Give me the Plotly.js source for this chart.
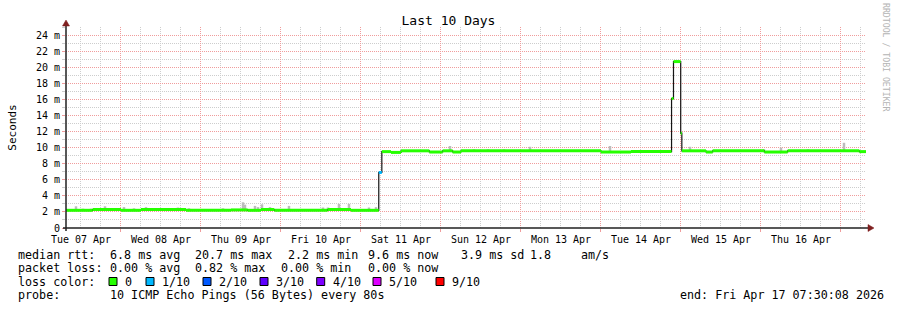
<!DOCTYPE html>
<html>
<head>
<meta charset="utf-8">
<script src="https://cdn.plot.ly/plotly-3.0.1.min.js"></script>
<style>html,body{margin:0;padding:0;background:#fff;}#chart{width:897px;height:310px;}</style>
</head>
<body>
<div id="chart"></div>
<script>
// ---------------- DATA ----------------
const rangeStart = '2026-04-07 07:30:08';
const rangeEnd = '2026-04-17 07:30:08';

// median RTT steps (ms) : start time, value, lost pings out of 10
const segStart = [
  '2026-04-07 07:30', '2026-04-07 15:30', '2026-04-08 00:00', '2026-04-08 06:00',
  '2026-04-08 19:30', '2026-04-09 09:00', '2026-04-09 14:00', '2026-04-09 18:00',
  '2026-04-09 22:00', '2026-04-10 14:00', '2026-04-10 21:00', '2026-04-11 05:20',
  '2026-04-11 06:15', '2026-04-11 09:00', '2026-04-11 12:00', '2026-04-11 20:30',
  '2026-04-12 00:30', '2026-04-12 03:30', '2026-04-12 06:00', '2026-04-14 00:00',
  '2026-04-14 09:00', '2026-04-14 21:10', '2026-04-14 21:45', '2026-04-14 23:55',
  '2026-04-15 00:15', '2026-04-15 07:30', '2026-04-15 09:30', '2026-04-16 01:00',
  '2026-04-16 08:00', '2026-04-17 05:30'
];
const segMedian = [
  2.2, 2.3, 2.2, 2.3,
  2.2, 2.25, 2.2, 2.3,
  2.2, 2.3, 2.2, 6.9,
  9.5, 9.4, 9.6, 9.45,
  9.6, 9.45, 9.6, 9.45,
  9.5, 16.1, 20.7, 11.8,
  9.6, 9.45, 9.6, 9.45,
  9.6, 9.5
];
const segLoss = [
  0, 0, 0, 0, 0, 0, 0, 0, 0, 0, 0, 1,
  0, 0, 0, 0, 0, 0, 0, 0, 0, 0, 0, 0,
  0, 0, 0, 0, 0, 0
];

// smoke (upper spread of pings, ms)
const smokeTime = [
  '2026-04-07 10:30', '2026-04-07 12:36', '2026-04-07 15:00', '2026-04-07 19:12',
  '2026-04-07 21:36', '2026-04-08 00:54', '2026-04-08 03:54', '2026-04-08 07:30',
  '2026-04-08 17:06', '2026-04-08 20:24', '2026-04-09 06:36', '2026-04-09 12:36',
  '2026-04-09 13:12', '2026-04-09 16:12', '2026-04-09 17:06', '2026-04-09 18:18',
  '2026-04-09 20:42', '2026-04-10 02:24', '2026-04-10 12:36', '2026-04-10 14:06',
  '2026-04-10 17:24', '2026-04-10 20:24', '2026-04-11 02:24', '2026-04-11 04:30',
  '2026-04-12 02:42', '2026-04-12 09:54', '2026-04-12 14:06', '2026-04-12 18:54',
  '2026-04-13 02:42', '2026-04-14 02:42', '2026-04-15 02:42', '2026-04-16 00:54',
  '2026-04-16 06:00', '2026-04-16 14:06', '2026-04-17 00:54'
];
const smokeTop = [
  2.7, 2.4, 2.4, 2.7,
  2.4, 2.6, 2.45, 2.6,
  2.55, 2.45, 2.45, 3.2,
  2.9, 2.75, 2.6, 2.95,
  2.6, 2.75, 2.55, 2.55,
  3.0, 3.0, 2.55, 2.6,
  10.2, 9.8, 9.8, 9.8,
  10.1, 10.2, 10.1, 9.8,
  10.0, 9.8, 10.6
];

// y axis ticks
const yTickVals = [0, 2, 4, 6, 8, 10, 12, 14, 16, 18, 20, 22, 24];
const yTickText = ['0', '2 m', '4 m', '6 m', '8 m', '10 m', '12 m', '14 m', '16 m', '18 m', '20 m', '22 m', '24 m'];

// x axis: midnights (grid) and noon labels
const dayStarts = ['2026-04-08', '2026-04-09', '2026-04-10', '2026-04-11', '2026-04-12',
  '2026-04-13', '2026-04-14', '2026-04-15', '2026-04-16', '2026-04-17'];
const dayNoons = ['2026-04-07 12:00', '2026-04-08 12:00', '2026-04-09 12:00', '2026-04-10 12:00',
  '2026-04-11 12:00', '2026-04-12 12:00', '2026-04-13 12:00', '2026-04-14 12:00',
  '2026-04-15 12:00', '2026-04-16 12:00'];
const dayLabels = ['Tue 07 Apr', 'Wed 08 Apr', 'Thu 09 Apr', 'Fri 10 Apr', 'Sat 11 Apr',
  'Sun 12 Apr', 'Mon 13 Apr', 'Tue 14 Apr', 'Wed 15 Apr', 'Thu 16 Apr'];

// loss colours
const lossLevels = [0, 1, 2, 3, 4, 5, 9];
const lossLabels = ['0', '1/10', '2/10', '3/10', '4/10', '5/10', '9/10'];
const lossColors = ['#26ff00', '#00b8ff', '#0059ff', '#5e00ff', '#7e00ff', '#dd00ff', '#ff0000'];

// legend texts
const rttLabel = 'median rtt:';
const rttStats = ['6.8 ms avg', '20.7 ms max', '2.2 ms min', '9.6 ms now', '3.9 ms sd', '1.8', 'am/s'];
const lossLabel = 'packet loss:';
const lossStats = ['0.00 % avg', '0.82 % max', '0.00 % min', '0.00 % now'];
const colorLabel = 'loss color:';
const probeLabel = 'probe:';
const probeText = '10 ICMP Echo Pings (56 Bytes) every 80s';
const endText = 'end: Fri Apr 17 07:30:08 2026';
const titleText = 'Last 10 Days';
const yTitle = 'Seconds';
const watermark = 'RRDTOOL / TOBI OETIKER';

// ---------------- LAYOUT HELPERS ----------------
const W = 897, H = 310;
const PL = 66, PR = 866, PT = 27, PB = 228;
const px = x => (x - PL) / (PR - PL);
const py = y => (PB - y) / (PB - PT);
const MONO = 'DejaVu Sans Mono, monospace';
const gridMajor = '#f09c9c';
const gridMinor = '#cdcdcd';
const dashPat = '1px,1px';

function levelIndex(loss) {
  let idx = 0;
  for (let k = 0; k < lossLevels.length; k++) if (loss >= lossLevels[k]) idx = k;
  return idx;
}
function medianAt(t) {
  const tt = new Date(t.replace(' ', 'T')).getTime();
  let v = segMedian[0];
  for (let i = 0; i < segStart.length; i++) {
    if (new Date(segStart[i].replace(' ', 'T')).getTime() <= tt) v = segMedian[i];
  }
  return v;
}

// ---------------- TRACES ----------------
const traces = [];

// smoke
const sx = [], sy = [];
smokeTime.forEach((t, i) => { sx.push(t, t, null); sy.push(medianAt(t), smokeTop[i], null); });
traces.push({ x: sx, y: sy, mode: 'lines', line: { color: '#bcbcbc', width: 2.5 }, hoverinfo: 'skip', showlegend: false });

// dark median step line
traces.push({
  x: segStart.concat([rangeEnd]), y: segMedian.concat([segMedian[segMedian.length - 1]]),
  mode: 'lines', line: { color: '#141414', width: 1.2, shape: 'hv' }, hoverinfo: 'skip', showlegend: false
});

// coloured median by loss
lossColors.forEach((col, k) => {
  const x = [], y = [];
  for (let i = 0; i < segStart.length; i++) {
    if (levelIndex(segLoss[i]) !== k) continue;
    x.push(segStart[i], i + 1 < segStart.length ? segStart[i + 1] : rangeEnd, null);
    y.push(segMedian[i], segMedian[i], null);
  }
  if (x.length) traces.push({ x, y, mode: 'lines', line: { color: col, width: 3 }, hoverinfo: 'skip', showlegend: false });
});

// invisible trace to carry label axis
traces.push({ x: [rangeStart, rangeEnd], y: [0, 0], xaxis: 'x2', mode: 'markers', marker: { opacity: 0 }, hoverinfo: 'skip', showlegend: false });

// ---------------- ANNOTATIONS & SHAPES ----------------
const ann = [];
const shapes = [];
function txt(x, y, s, opts) {
  ann.push(Object.assign({
    xref: 'paper', yref: 'paper', x: px(x), y: py(y), text: s, showarrow: false,
    xanchor: 'left', yanchor: 'middle', font: { family: MONO, size: 11.7, color: '#000' }
  }, opts || {}));
}
const row1 = 254.5, row2 = 268, row3 = 281.5, row4 = 295;
txt(16, row1, rttLabel);
[107.7, 192.7, 286, 366, 459, 528, 579].forEach((x, i) => txt(x, row1, rttStats[i]));
txt(16, row2, lossLabel);
[107.7, 192.7, 279.3, 366].forEach((x, i) => txt(x, row2, lossStats[i]));
txt(16, row3, colorLabel);
const boxX = [109, 146, 203, 260, 316.7, 373, 436];
boxX.forEach((bx, i) => {
  shapes.push({ type: 'rect', xref: 'paper', yref: 'paper', x0: px(bx), x1: px(bx + 8), y0: py(row3 + 4), y1: py(row3 - 4),
    fillcolor: lossColors[i], line: { color: '#000', width: 1 } });
  txt(bx + 14, row3, lossLabels[i]);
});
txt(16, row4, probeLabel);
txt(107.7, row4, probeText);
txt(678.3, row4, endText);

// watermark
ann.push({ xref: 'paper', yref: 'paper', x: px(886), y: py(58), text: watermark, textangle: 90, showarrow: false,
  xanchor: 'center', yanchor: 'middle', font: { family: MONO, size: 8.2, color: '#b4b4b4' } });

// axes lines and arrows
const axisCol = '#202020', arrowCol = '#7f1f1f';
shapes.push({ type: 'line', xref: 'paper', yref: 'paper', x0: px(63), x1: px(870), y0: 0, y1: 0, line: { color: axisCol, width: 1.5 } });
shapes.push({ type: 'line', xref: 'paper', yref: 'paper', x0: 0, x1: 0, y0: py(231), y1: py(22), line: { color: axisCol, width: 1.5 } });
shapes.push({ type: 'path', xref: 'paper', yref: 'paper',
  path: `M ${px(868)} ${py(224.5)} L ${px(874)} ${py(228)} L ${px(868)} ${py(231.5)} Z`, fillcolor: arrowCol, line: { color: arrowCol, width: 0.5 } });
shapes.push({ type: 'path', xref: 'paper', yref: 'paper',
  path: `M ${px(62.5)} ${py(26)} L ${px(66)} ${py(20)} L ${px(69.5)} ${py(26)} Z`, fillcolor: arrowCol, line: { color: arrowCol, width: 0.5 } });

// ---------------- LAYOUT ----------------
const layout = {
  width: W, height: H,
  margin: { l: PL, r: W - PR, t: PT, b: H - PB, pad: 0 },
  paper_bgcolor: '#ffffff', plot_bgcolor: '#ffffff',
  showlegend: false, hovermode: false,
  font: { family: MONO, color: '#000' },
  title: { text: titleText, x: 0.5, xref: 'container', xanchor: 'center', y: 1 - 20 / H, yref: 'container', yanchor: 'middle',
    font: { family: MONO, size: 13, color: '#000' } },
  xaxis: {
    type: 'date', range: [rangeStart, rangeEnd], tickmode: 'array', tickvals: dayStarts, showticklabels: false,
    ticks: 'outside', ticklen: 3, tickcolor: gridMajor, tickwidth: 1,
    showgrid: true, gridcolor: gridMajor, griddash: dashPat, gridwidth: 1,
    minor: { dtick: 6 * 3600 * 1000, tick0: '2026-04-07 00:00', showgrid: true, gridcolor: gridMinor, griddash: dashPat, gridwidth: 1,
      ticks: '' },
    zeroline: false, showline: false, fixedrange: true
  },
  xaxis2: {
    type: 'date', overlaying: 'x', anchor: 'y', side: 'bottom', range: [rangeStart, rangeEnd],
    tickmode: 'array', tickvals: dayNoons, ticktext: dayLabels, showgrid: false, ticks: 'outside', ticklen: 2, tickcolor: 'rgba(0,0,0,0)',
    tickfont: { family: MONO, size: 10, color: '#000' }, zeroline: false, showline: false, fixedrange: true
  },
  yaxis: {
    range: [0, 25], tickmode: 'array', tickvals: yTickVals, ticktext: yTickText,
    ticks: 'outside', ticklen: 3, tickcolor: gridMajor, tickwidth: 1,
    showgrid: true, gridcolor: gridMajor, griddash: dashPat, gridwidth: 1,
    minor: { dtick: 1, tick0: 0, showgrid: true, gridcolor: gridMinor, griddash: dashPat, gridwidth: 1, ticks: 'outside', ticklen: 3, tickcolor: gridMinor },
    tickfont: { family: MONO, size: 10, color: '#000' },
    title: { text: yTitle, font: { family: MONO, size: 11, color: '#000' }, standoff: 17 },
    zeroline: false, showline: false, fixedrange: true
  },
  annotations: ann,
  shapes: shapes
};

Plotly.newPlot('chart', traces, layout, { staticPlot: true, displayModeBar: false });
</script>
</body>
</html>
